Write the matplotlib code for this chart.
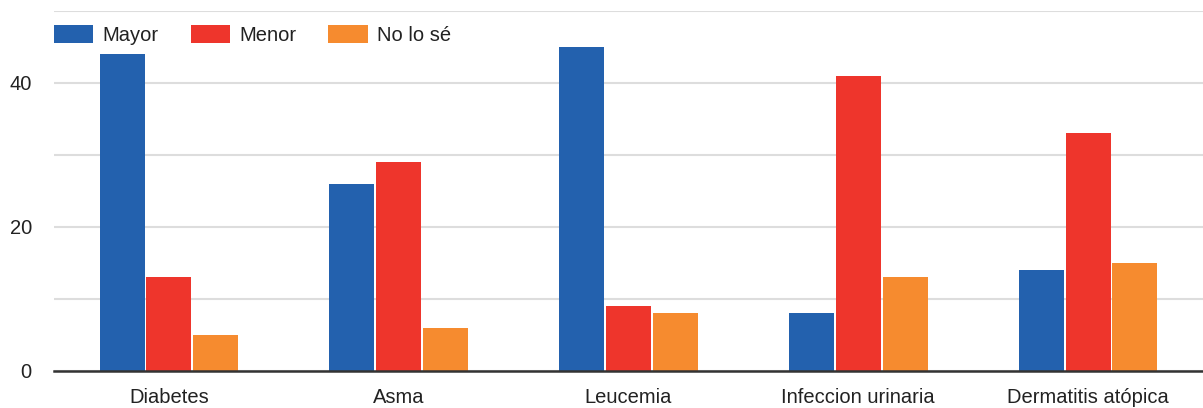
import matplotlib
matplotlib.use('Agg')
import matplotlib.pyplot as plt
import numpy as np

categories = ['Diabetes', 'Asma', 'Leucemia', 'Infeccion urinaria', 'Dermatitis atópica']
mayor = [44, 26, 45, 8, 14]
menor = [13, 29, 9, 41, 33]
no_lo_se = [5, 6, 8, 13, 15]

series = [('Mayor', mayor, '#2361ae'),
          ('Menor', menor, '#ee352c'),
          ('No lo sé', no_lo_se, '#f68b2f')]

plt.rcParams['font.family'] = ['Liberation Sans', 'DejaVu Sans']

fig = plt.figure(figsize=(12.03, 4.08), dpi=100)
ax = fig.add_axes([54 / 1203, 1 - 371 / 408, 1 - 54 / 1203, 360 / 408])

x = np.arange(len(categories))
step = 0.204
for i, (name, vals, col) in enumerate(series):
    ax.bar(x + (i - 1) * step, vals, width=0.196, color=col, label=name, zorder=3)

ax.set_xlim(-0.5, len(categories) - 0.5)
ax.set_ylim(0, 50)
ax.set_yticks([0, 10, 20, 30, 40, 50])
ax.set_yticklabels(['0', '', '20', '', '40', ''])
ax.yaxis.grid(True, color='#dddddd', linewidth=1.5, zorder=0)
ax.set_xticks(x)
ax.set_xticklabels(categories)
ax.tick_params(axis='both', length=0, labelsize=14.5, labelcolor='#222222')
ax.tick_params(axis='y', pad=16)
ax.tick_params(axis='x', pad=12)

for s in ['top', 'right', 'left']:
    ax.spines[s].set_visible(False)
ax.spines['bottom'].set_color('#333333')
ax.spines['bottom'].set_linewidth(1.8)
ax.spines['bottom'].set_zorder(4)

ax.legend(loc='center left', bbox_to_anchor=(0, 0.933), ncol=3, frameon=False,
          borderaxespad=0, borderpad=0, handlelength=1.95, handleheight=1.0,
          handletextpad=0.45, columnspacing=1.6, fontsize=14.5,
          labelcolor='#222222')

fig.savefig('out.png', dpi=100)
